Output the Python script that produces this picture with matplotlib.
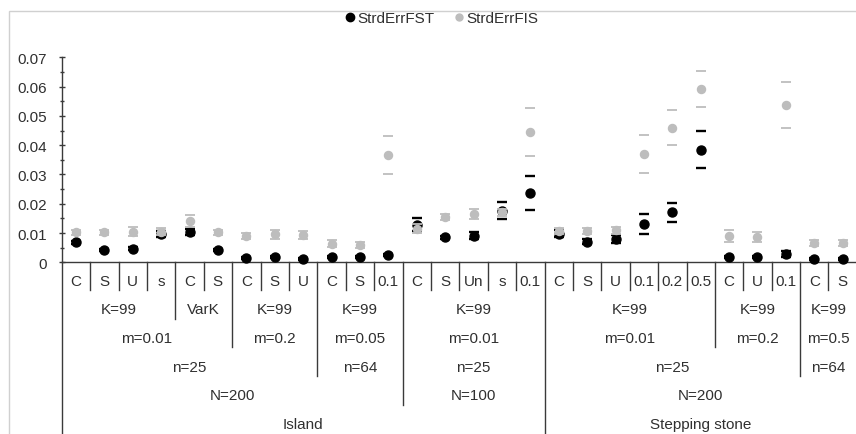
import matplotlib.pyplot as plt
from matplotlib.lines import Line2D
from matplotlib.patches import Rectangle

plt.rcParams['font.family'] = ['Liberation Sans', 'DejaVu Sans']

# category labels (lowest level) and the group levels above them
cats = ['C', 'S', 'U', 's', 'C', 'S', 'C', 'S', 'U', 'C', 'S', '0.1',
        'C', 'S', 'Un', 's', '0.1',
        'C', 'S', 'U', '0.1', '0.2', '0.5', 'C', 'U', '0.1', 'C', 'S']
k_groups = [('K=99', 4), ('VarK', 2), ('K=99', 3), ('K=99', 3),
            ('K=99', 5), ('K=99', 6), ('K=99', 3), ('K=99', 2)]
m_groups = [('m=0.01', 6), ('m=0.2', 3), ('m=0.05', 3), ('m=0.01', 5),
            ('m=0.01', 6), ('m=0.2', 3), ('m=0.5', 2)]
n_groups = [('n=25', 9), ('n=64', 3), ('n=25', 5), ('n=25', 9), ('n=64', 2)]
N_groups = [('N=200', 12), ('N=100', 5), ('N=200', 11)]
model_groups = [('Island', 17), ('Stepping stone', 11)]

fst = [0.0068, 0.0043, 0.0047, 0.0096, 0.0104, 0.0043, 0.0015, 0.0017,
       0.0011, 0.0019, 0.0017, 0.0025, 0.0128, 0.0085, 0.0091, 0.0176,
       0.0238, 0.0098, 0.0071, 0.0080, 0.0130, 0.0171, 0.0385, 0.0019,
       0.0017, 0.0028, 0.0012, 0.0011]
fst_err = [0.0004, 0.0004, 0.0005, 0.0011, 0.0010, 0.0004, 0.0003, 0.0003,
           0.0003, 0.0003, 0.0003, 0.0005, 0.0022, 0.0005, 0.0012, 0.0029,
           0.0058, 0.0013, 0.0010, 0.0013, 0.0034, 0.0032, 0.0064, 0.0003,
           0.0003, 0.0010, 0.0003, 0.0003]
fis = [0.0102, 0.0102, 0.0105, 0.0105, 0.0140, 0.0102, 0.0091, 0.0096,
       0.0093, 0.0063, 0.0060, 0.0366, 0.0115, 0.0154, 0.0165, 0.0171,
       0.0445, 0.0108, 0.0107, 0.0110, 0.0370, 0.0460, 0.0592, 0.0090,
       0.0086, 0.0536, 0.0066, 0.0066]
fis_err = [0.0010, 0.0010, 0.0016, 0.0012, 0.0020, 0.0010, 0.0010, 0.0016,
           0.0015, 0.0012, 0.0010, 0.0065, 0.0015, 0.0010, 0.0018, 0.0012,
           0.0081, 0.0010, 0.0010, 0.0012, 0.0066, 0.0060, 0.0060, 0.0020,
           0.0018, 0.0079, 0.0010, 0.0010]

W, H = 856, 435
BLACK = '#000000'
GRAY = '#bdbdbd'
TXT = '#303030'
LINE = '#3a3a3a'

fig = plt.figure(figsize=(W / 100, H / 100), dpi=100)
ax_left, ax_top, ax_bot = 61.7, 58.3, 263.3
ax = fig.add_axes([ax_left / W, 1 - ax_bot / H, 795.2 / W, (ax_bot - ax_top) / H])

# outer chart border (cropped on right/bottom)
fig.patches.append(Rectangle((9.3 / W, -0.2), 1.2, 1.2 - 11.7 / H + 0.0,
                             transform=fig.transFigure, fill=False,
                             edgecolor='#d0d0d0', lw=1))

x = list(range(len(cats)))
eb1 = ax.errorbar(x, fst, yerr=fst_err, fmt='o', ms=6.5, color=BLACK,
                  ecolor=BLACK, capsize=3.3, capthick=1.7, zorder=3)
eb2 = ax.errorbar(x, fis, yerr=fis_err, fmt='o', ms=5.8, color=GRAY,
                  ecolor=GRAY, capsize=3.4, capthick=1.3, zorder=4)
for eb in (eb1, eb2):
    for c in eb[2]:
        c.set_visible(False)
    for a in list(eb[1]) + [eb[0]]:
        a.set_clip_on(False)

ax.set_xlim(-0.5, len(cats) - 0.5)
ax.set_ylim(0, 0.07)
ax.set_yticks([i * 0.01 for i in range(8)])
ax.set_yticks([i * 0.01 + 0.005 for i in range(7)], minor=True)
ax.set_yticklabels(['0' if i == 0 else f'{i * 0.01:.2f}' for i in range(8)])
ax.tick_params(axis='y', which='major', direction='inout', length=5,
               width=1, color=LINE, labelsize=11, labelcolor=TXT, pad=8)
ax.tick_params(axis='y', which='minor', direction='inout', length=3,
               width=1, color=LINE)
ax.set_xticks([])
for s in ('top', 'right'):
    ax.spines[s].set_visible(False)
for s in ('left', 'bottom'):
    ax.spines[s].set_color(LINE)
    ax.spines[s].set_linewidth(1)

# multi-level category axis
trans = ax.get_xaxis_transform()
span = ax_bot - ax_top


def frac(px):
    return (ax_bot - px) / span


row_y = [281.7, 310, 339, 368, 396.5, 425]
line_bot = [291, 320, 348, 377, 406, 470]
levels = [[(c, 1) for c in cats], k_groups, m_groups, n_groups, N_groups,
          model_groups]

bounds = []
for lev, groups in enumerate(levels):
    pos = 0
    bset = set()
    for label, n in groups:
        ax.text(pos + n / 2 - 0.5, frac(row_y[lev]), label, transform=trans,
                ha='center', va='center', fontsize=11, color=TXT)
        pos += n
        bset.add(pos)
    bounds.append(bset)

for b in range(1, len(cats)):
    lev = max(i for i in range(len(levels)) if b in bounds[i])
    ax.plot([b - 0.5, b - 0.5], [0, frac(line_bot[lev])], transform=trans,
            color=LINE, lw=1, clip_on=False)
ax.plot([-0.5, -0.5], [0, frac(line_bot[-1])], transform=trans,
        color=LINE, lw=1, clip_on=False)

handles = [Line2D([], [], ls='', marker='o', ms=6, color=BLACK),
           Line2D([], [], ls='', marker='o', ms=5, color=GRAY)]
fig.legend(handles, ['StrdErrFST', 'StrdErrFIS'], loc='center',
           bbox_to_anchor=(441.7 / W, 1 - 19 / H), ncol=2, frameon=False,
           fontsize=11, handlelength=0.6, handletextpad=0.2,
           columnspacing=1.3, labelcolor=TXT)

fig.savefig('out.png', dpi=100)
